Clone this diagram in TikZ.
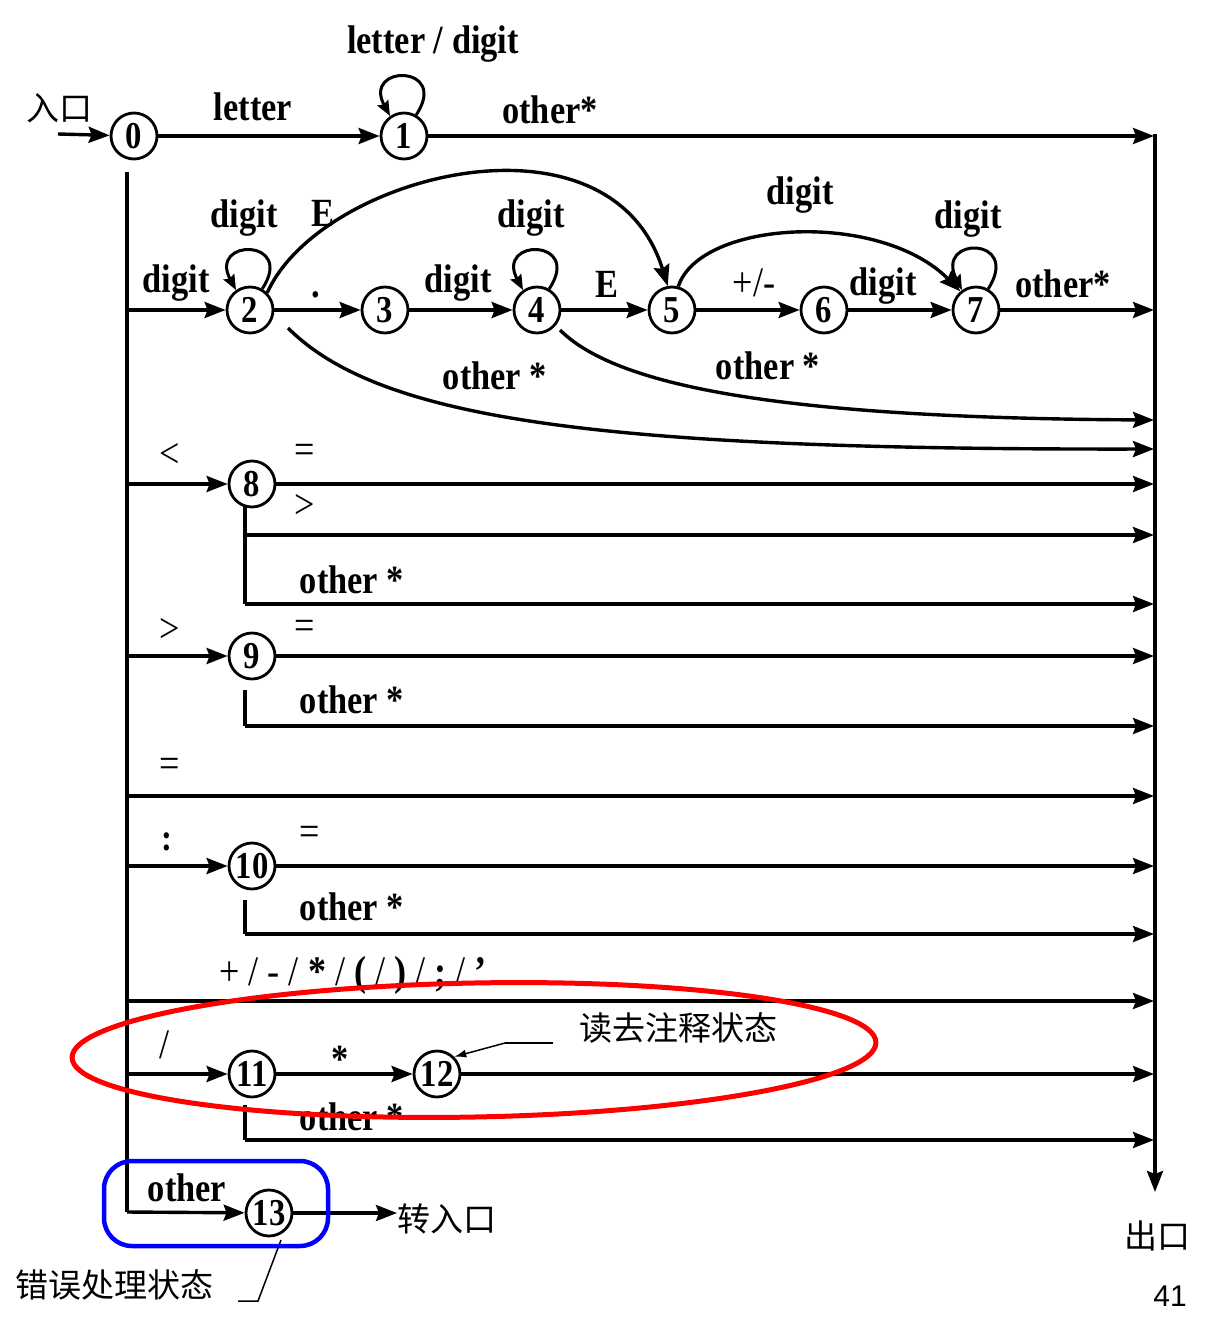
\documentclass[tikz,border=0pt]{standalone}
\usepackage{fontspec}
\setmainfont{Liberation Serif}[FakeStretch=0.86]
\newfontfamily\cjk{Noto Sans CJK SC}
\newfontfamily\sansf{Liberation Sans}
\usetikzlibrary{arrows.meta}
\begin{document}
\begin{tikzpicture}[x=1pt,y=-1pt,
  st/.style={circle,draw,line width=2.8pt,minimum size=46pt,inner sep=0pt,font=\fontsize{38}{38}\selectfont\bfseries},
  lb/.style={font=\fontsize{40}{40}\selectfont\bfseries,inner sep=0pt,anchor=base},
  sy/.style={font=\fontsize{42}{42}\selectfont,inner sep=0pt},
  zh/.style={font=\fontsize{33}{33}\selectfont\cjk,inner sep=0pt},
  ln/.style={line width=3.4pt},
  ar/.style={line width=3.4pt,-{Stealth[length=21pt,width=16pt,inset=3pt]}},
  lp/.style={line width=3pt,-{Stealth[length=15pt,width=12pt,inset=2pt]}},
]
\fill[white] (0,0) rectangle (1214,1330);
\useasboundingbox (0,0) rectangle (1214,1330);

% states
\node[st] (s0) at (134,136) {0};
\node[st] (s1) at (404,136) {1};
\node[st] (s2) at (250,310) {2};
\node[st] (s3) at (385,310) {3};
\node[st] (s4) at (537,310) {4};
\node[st] (s5) at (672,310) {5};
\node[st] (s6) at (824,310) {6};
\node[st] (s7) at (976,310) {7};
\node[st] (s8) at (252,484) {8};
\node[st] (s9) at (252,656) {9};
\node[st] (s10) at (252,866) {10};
\node[st] (s11) at (252,1074) {11};
\node[st] (s12) at (437,1074) {12};
\node[st] (s13) at (269,1213) {13};

% helper coordinates
\coordinate (in) at (58,134);
\coordinate (tTop) at (127,172);
\coordinate (tBot) at (127,1212);
\coordinate (exTop) at (1155,134);
\coordinate (exBot) at (1155,1192);
\coordinate (ex) at (1154,134);
\coordinate (c796) at (127,796);
\coordinate (c1001) at (127,1001);
\coordinate (b8) at (245,505);
\coordinate (b8a) at (245,535);
\coordinate (b8b) at (245,604);
\coordinate (b9) at (245,690);
\coordinate (b9a) at (245,726);
\coordinate (b10) at (245,900);
\coordinate (b10a) at (245,934);
\coordinate (b11) at (245,1105);
\coordinate (b11a) at (245,1140);
\coordinate (e420) at (1154,420);
\coordinate (e449) at (1154,449);

% trunk and exit
\draw[ln] (tTop) -- (tBot);
\draw[ar] (tBot) -- (s13);
\draw[ar] (exTop) -- (exBot);

% entry and first row
\draw[ar] (in) -- (s0);
\draw[ar] (s0) -- (s1);
\draw[ar] (s1) -- (ex |- s1);
\draw[lp] (s1.60) .. controls (450,64) and (362,64) .. (s1.125);

% number row
\draw[ar] (tTop |- s2) -- (s2);
\draw[ar] (s2) -- (s3);
\draw[ar] (s3) -- (s4);
\draw[ar] (s4) -- (s5);
\draw[ar] (s5) -- (s6);
\draw[ar] (s6) -- (s7);
\draw[ar] (s7) -- (ex |- s7);
\draw[lp] (s2.60) .. controls (296,238) and (208,238) .. (s2.125);
\draw[lp] (s4.60) .. controls (583,238) and (495,238) .. (s4.125);
\draw[lp] (s7.60) .. controls (1022,236) and (934,236) .. (s7.125);
\draw[ar] (s2.45) .. controls (320,175) and (610,100) .. (s5.100);
\draw[ar] (s5.75) .. controls (700,220) and (880,210) .. (s7.130);
\draw[ar] (560,330) .. controls (620,390) and (800,418) .. (e420);
\draw[ar] (288,328) .. controls (380,420) and (600,450) .. (e449);

% < row
\draw[ar] (tTop |- s8) -- (s8);
\draw[ar] (s8) -- (ex |- s8);
\draw[ln] (b8) -- (b8b);
\draw[ar] (b8a) -- (ex |- b8a);
\draw[ar] (b8b) -- (ex |- b8b);

% > row
\draw[ar] (tTop |- s9) -- (s9);
\draw[ar] (s9) -- (ex |- s9);
\draw[ln] (b9) -- (b9a);
\draw[ar] (b9a) -- (ex |- b9a);

% = row
\draw[ar] (c796) -- (ex |- c796);

% : row
\draw[ar] (tTop |- s10) -- (s10);
\draw[ar] (s10) -- (ex |- s10);
\draw[ln] (b10) -- (b10a);
\draw[ar] (b10a) -- (ex |- b10a);

% single chars row
\draw[ar] (c1001) -- (ex |- c1001);

% / row
\draw[ar] (tTop |- s11) -- (s11);
\draw[ar] (s11) -- (s12);
\draw[ar] (s12) -- (ex |- s12);
\draw[ln] (b11) -- (b11a);
\draw[ar] (b11a) -- (ex |- b11a);

% labels
\node[zh] (lin) at (60,108) {入口};
\node[lb] (l01) at (253,120) {letter};
\node[lb] (l11) at (433,53) {letter / digit};
\node[lb] (l1x) at (550,123) {other*};
\node[lb] (l22) at (244,227) {digit};
\node[lb] (l25) at (323,226) {E};
\node[lb] (l02) at (176,292) {digit};
\node[lb] (l23) at (316,297) {.};
\node[lb] (l34) at (458,292) {digit};
\node[lb] (l44) at (531,227) {digit};
\node[lb] (l45) at (607,297) {E};
\node[lb] (l57) at (800,204) {digit};
\node[sy,anchor=base] (l56) at (754,296) {+/-};
\node[lb] (l67) at (883,295) {digit};
\node[lb] (l77) at (968,228) {digit};
\node[lb] (l7x) at (1063,297) {other*};
\node[lb] (l2x) at (495,389) {other *};
\node[lb] (l4x) at (768,379) {other *};

\node[sy] (lt) at (170,455) {<};
\node[sy] (l8e) at (305,454) {=};
\node[sy] (l8g) at (305,506) {>};
\node[lb] (l8x) at (352,593) {other *};
\node[sy] (lg) at (170,630) {>};
\node[sy] (l9e) at (305,630) {=};
\node[lb] (l9x) at (352,713) {other *};
\node[sy] (le) at (170,768) {=};
\node[sy,font=\fontsize{38}{38}\selectfont\bfseries] (lc) at (167,842) {:};
\node[sy] (l10e) at (310,836) {=};
\node[lb] (l10x) at (352,920) {other *};
\node[sy] (lops) at (353,975) {+ / - / \textbf{*} / \textbf{(} / \textbf{)} / \textbf{;} / \textbf{'}};
\node[sy] (lsl) at (165,1045) {/};
\node[lb] (l1112) at (340,1072) {*};
\node[lb] (l11x) at (352,1130) {other *};
\node[lb] (l13) at (187,1201) {other};

\node[zh,anchor=west] (zr) at (397,1219) {转入口};
\draw[ar] (s13) -- (zr.west |- s13);
\node[zh] (lex) at (1157,1236) {出口};
\node[font=\fontsize{30}{30}\selectfont\sansf,inner sep=0pt] (pg) at (1170,1296) {41};

% annotations
\node[zh] (rd) at (678,1028) {读去注释状态};
\coordinate (rdk) at (505,1043);
\draw[line width=1.5pt] (553,1043) -- (rdk);
\draw[line width=1.5pt,-{Latex[length=12pt,width=8pt]}] (rdk) -- (s12.45);
\node[zh] (er) at (115,1285) {错误处理状态};
\coordinate (erk) at (258,1301);
\draw[line width=1.5pt] (238,1301) -- (erk) -- (281,1240);

\draw[red,line width=5pt,rotate around={1.1:(474,1050)}] (474,1050) ellipse [x radius=402, y radius=67];
\draw[blue,line width=4.5pt,rounded corners=28pt] (104,1161) rectangle (328,1246);
\end{tikzpicture}
\end{document}
